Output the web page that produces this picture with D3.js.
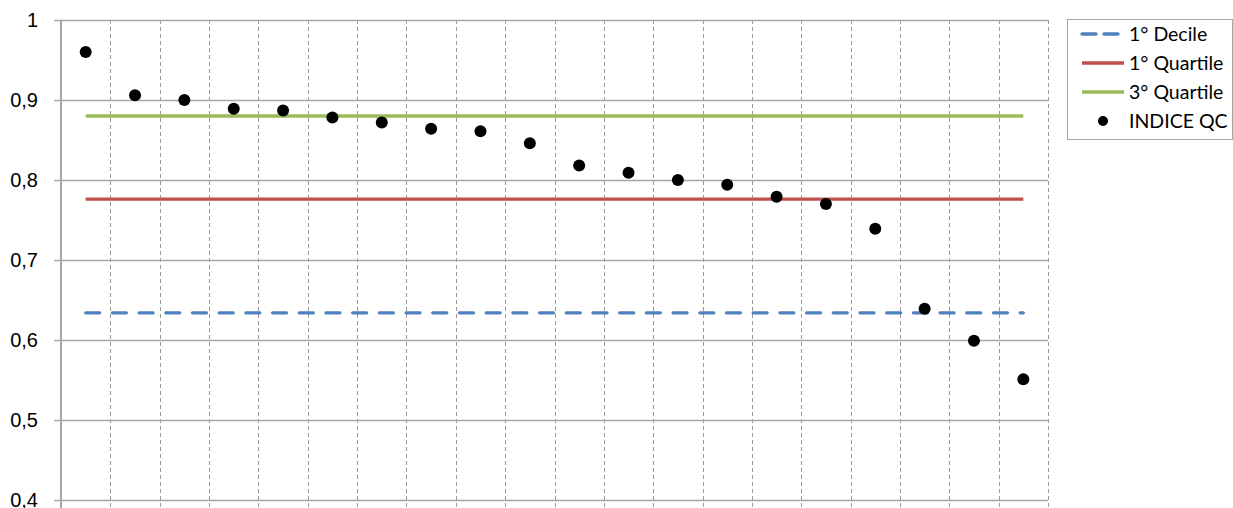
<!DOCTYPE html>
<html>
<head>
<meta charset="utf-8">
<script src="https://cdn.jsdelivr.net/npm/d3@7"></script>
<style>
  body { margin: 0; background: #fff; }
  svg { display: block; font-family: "Lato", "Open Sans", sans-serif; }
  .tick-label { font-size: 20px; fill: #000; }
  .legend-label { font-size: 19.5px; fill: #000; }
</style>
</head>
<body>
<div id="chart"></div>
<script>
// ── Data ─────────────────────────────────────────────
const categories = d3.range(1, 21);
const indiceQC = [0.960, 0.906, 0.900, 0.889, 0.887, 0.878, 0.872, 0.864, 0.861, 0.846,
                  0.818, 0.809, 0.800, 0.794, 0.779, 0.770, 0.739, 0.639, 0.599, 0.551];
const decile1 = 0.634;
const quartile1 = 0.776;
const quartile3 = 0.880;
const yTicks = [0.4, 0.5, 0.6, 0.7, 0.8, 0.9, 1];

const width = 1233, height = 508;
const margin = { left: 61, right: 185, top: 20, bottom: 8 };
const innerW = width - margin.left - margin.right;
const innerH = height - margin.top - margin.bottom;

const svg = d3.select("#chart").append("svg")
    .attr("width", width)
    .attr("height", height);

const g = svg.append("g")
    .attr("transform", `translate(${margin.left},${margin.top})`);

// Scales
const xScale = d3.scaleBand().domain(categories).range([0, innerW]);
const yScale = d3.scaleLinear().domain([0.4, 1]).range([innerH, 0]);

// Vertical dashed gridlines at category boundaries
const bounds = d3.range(1, categories.length + 1).map(i => xScale.step() * i);
g.selectAll("line.vgrid")
    .data(bounds)
    .join("line")
    .attr("class", "vgrid")
    .attr("x1", d => Math.round(d) + 0.5)
    .attr("x2", d => Math.round(d) + 0.5)
    .attr("y1", 0)
    .attr("y2", innerH + 8)
    .attr("stroke", "#9a9a9a")
    .attr("stroke-width", 1)
    .attr("stroke-dasharray", "4,3");

// Horizontal gridlines + y axis
const leftAxis = d3.axisLeft(yScale)
    .tickValues(yTicks)
    .tickSize(-innerW)
    .tickFormat(d => d === 1 ? "1" : d3.format(".1f")(d).replace(".", ","));
const yAxisG = g.append("g").call(leftAxis);
yAxisG.select(".domain").remove();
yAxisG.selectAll(".tick line")
    .attr("x1", -7)
    .attr("stroke", "#a6a6a6")
    .attr("stroke-width", 1.3);
yAxisG.selectAll(".tick text")
    .attr("class", "tick-label")
    .attr("x", -23)
    .attr("dy", "0.34em")
    .attr("font-size", 20);

// Left axis line
g.append("line")
    .attr("x1", 0).attr("x2", 0)
    .attr("y1", 0).attr("y2", innerH + 8)
    .attr("stroke", "#a6a6a6")
    .attr("stroke-width", 2);

// Reference lines
const firstX = xScale(categories[0]) + xScale.bandwidth() / 2;
const lastX = xScale(categories[categories.length - 1]) + xScale.bandwidth() / 2;
const refLines = [
    { value: quartile3, color: "#9bbb59", dash: null },
    { value: quartile1, color: "#c0504d", dash: null },
    { value: decile1, color: "#4f81bd", dash: "14,12.7" }
];
g.selectAll("line.ref")
    .data(refLines)
    .join("line")
    .attr("class", "ref")
    .attr("x1", firstX)
    .attr("x2", lastX)
    .attr("y1", d => yScale(d.value))
    .attr("y2", d => yScale(d.value))
    .attr("stroke", d => d.color)
    .attr("stroke-width", 3.3)
    .attr("stroke-dasharray", d => d.dash)
    .attr("stroke-linecap", d => d.dash ? "round" : "butt");

// Points
g.selectAll("circle.pt")
    .data(indiceQC)
    .join("circle")
    .attr("class", "pt")
    .attr("cx", (d, i) => xScale(categories[i]) + xScale.bandwidth() / 2)
    .attr("cy", d => yScale(d))
    .attr("r", 6)
    .attr("fill", "#000");

// Legend
const legend = svg.append("g").attr("transform", "translate(1067,19)");
legend.append("rect")
    .attr("x", 0.5).attr("y", 0.5)
    .attr("width", 165).attr("height", 120)
    .attr("fill", "#fff")
    .attr("stroke", "#a6a6a6")
    .attr("stroke-width", 1);

const legendItems = [
    { label: "1° Decile", type: "line", color: "#4f81bd", dash: "14,8" },
    { label: "1° Quartile", type: "line", color: "#c0504d", dash: null },
    { label: "3° Quartile", type: "line", color: "#9bbb59", dash: null },
    { label: "INDICE QC", type: "dot", color: "#000" }
];
const rows = legend.selectAll("g.item")
    .data(legendItems)
    .join("g")
    .attr("class", "item")
    .attr("transform", (d, i) => `translate(0,${15 + i * 29})`);

rows.filter(d => d.type === "line").append("line")
    .attr("x1", 15).attr("x2", 57)
    .attr("y1", 0).attr("y2", 0)
    .attr("stroke", d => d.color)
    .attr("stroke-width", 3.3)
    .attr("stroke-dasharray", d => d.dash)
    .attr("stroke-linecap", d => d.dash ? "round" : "butt");

rows.filter(d => d.type === "dot").append("circle")
    .attr("cx", 36).attr("cy", 0).attr("r", 5)
    .attr("fill", d => d.color);

rows.append("text")
    .attr("class", "legend-label")
    .attr("x", 62)
    .attr("dy", "0.35em")
    .text(d => d.label);
</script>
</body>
</html>
